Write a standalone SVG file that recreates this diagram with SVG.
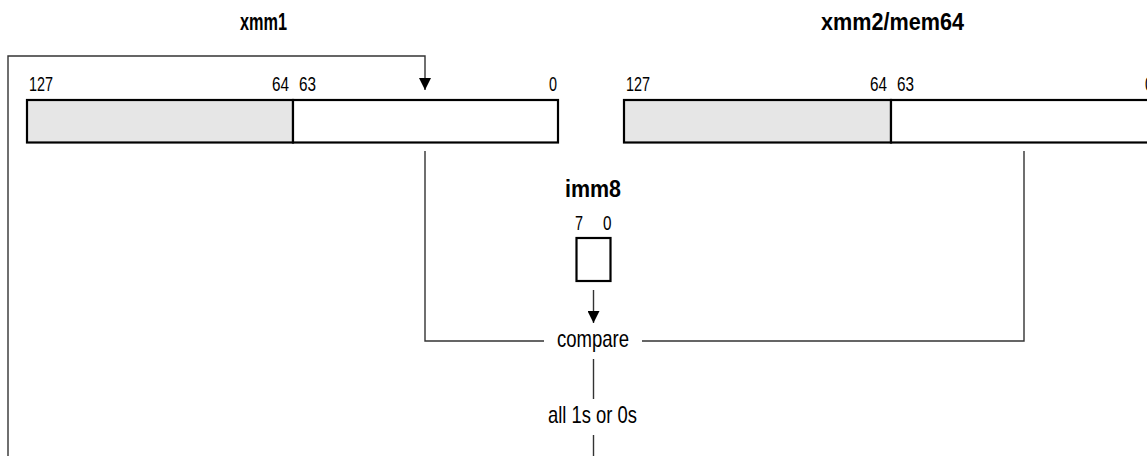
<svg xmlns="http://www.w3.org/2000/svg" width="1147" height="456" viewBox="0 0 1147 456">
<style>
  .title { font-family: "Liberation Sans", Arial, sans-serif; font-size: 24px; font-weight: bold; fill: #000; }
  .bit { font-family: "Liberation Sans", Arial, sans-serif; font-size: 20px; fill: #000; }
  .lbl { font-family: "Liberation Sans", Arial, sans-serif; font-size: 24px; fill: #000; }
  .reg { stroke: #000; stroke-width: 2.2; }
  .hi { fill: #e6e6e6; }
  .lo { fill: #fff; }
  .conn { fill: none; stroke: #333; stroke-width: 1.4; }
</style>
<defs>
  <marker id="arrow" markerUnits="userSpaceOnUse" markerWidth="13" markerHeight="12" refX="12" refY="6" orient="auto">
    <path d="M0,0 L12,6 L0,12 Z" fill="#000"/>
  </marker>
</defs>
<rect width="1147" height="456" fill="#fff"/>

<g id="connectors">
  <path class="conn" d="M8,456 L8,56 L425,56 L425,90" marker-end="url(#arrow)"/>
  <path class="conn" d="M425,151 L425,341 L544,341"/>
  <path class="conn" d="M642,341 L1024,341 L1024,151"/>
  <path class="conn" d="M593.5,290 L593.5,323" marker-end="url(#arrow)"/>
  <path class="conn" d="M593.5,359 L593.5,399"/>
  <path class="conn" d="M593.5,435 L593.5,456"/>
</g>

<g id="xmm1">
  <text class="title" x="240" y="30" textLength="47" lengthAdjust="spacingAndGlyphs">xmm1</text>
  <rect class="reg hi" x="27" y="100" width="266" height="42.5"/>
  <rect class="reg lo" x="293" y="100" width="265" height="42.5"/>
  <text class="bit" x="29" y="91" textLength="24" lengthAdjust="spacingAndGlyphs">127</text>
  <text class="bit" x="272" y="91" textLength="17" lengthAdjust="spacingAndGlyphs">64</text>
  <text class="bit" x="299" y="91" textLength="17" lengthAdjust="spacingAndGlyphs">63</text>
  <text class="bit" x="549" y="91" textLength="8" lengthAdjust="spacingAndGlyphs">0</text>
</g>

<g id="xmm2">
  <text class="title" x="821" y="30" textLength="143" lengthAdjust="spacingAndGlyphs">xmm2/mem64</text>
  <rect class="reg hi" x="624" y="100" width="267" height="42.5"/>
  <rect class="reg lo" x="891" y="100" width="266" height="42.5"/>
  <text class="bit" x="626" y="91" textLength="24" lengthAdjust="spacingAndGlyphs">127</text>
  <text class="bit" x="870" y="91" textLength="17" lengthAdjust="spacingAndGlyphs">64</text>
  <text class="bit" x="897" y="91" textLength="17" lengthAdjust="spacingAndGlyphs">63</text>
  <text class="bit" x="1145" y="91" textLength="8" lengthAdjust="spacingAndGlyphs">0</text>
</g>

<g id="imm8">
  <text class="title" x="565" y="197" textLength="56" lengthAdjust="spacingAndGlyphs">imm8</text>
  <text class="bit" x="575" y="230" textLength="8" lengthAdjust="spacingAndGlyphs">7</text>
  <text class="bit" x="603" y="230" textLength="8.5" lengthAdjust="spacingAndGlyphs">0</text>
  <rect class="reg lo" x="576.5" y="238" width="34" height="43"/>
</g>

<g id="compare">
  <text class="lbl" x="557" y="347" textLength="72" lengthAdjust="spacingAndGlyphs">compare</text>
</g>

<g id="result">
  <text class="lbl" x="548" y="423" textLength="89" lengthAdjust="spacingAndGlyphs">all 1s or 0s</text>
</g>
</svg>
